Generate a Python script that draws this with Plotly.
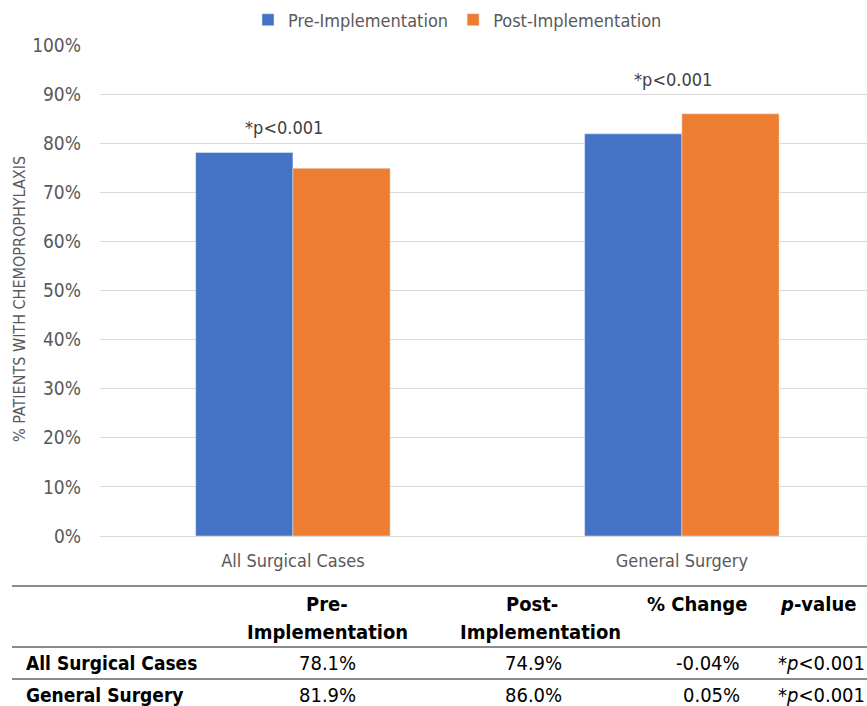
import plotly.graph_objects as go

# Chemoprophylaxis rates by cohort
categories = ["All Surgical Cases", "General Surgery"]
pre_values = [78.1, 81.9]     # % Pre-Implementation
post_values = [74.9, 86.0]    # % Post-Implementation
pct_change = ["-0.04%", "0.05%"]
p_labels = ["*p<0.001", "*p<0.001"]

W, H = 867, 706
M_L, M_R, M_T, M_B = 100, 0, 45, 170
PLOT_W = W - M_L - M_R
PLOT_H = H - M_T - M_B

FONT = "DejaVu Sans Condensed, sans-serif"
GREY = "#595959"
BLUE = "#4472C4"
ORANGE = "#ED7D31"


def px_x(x):
    return (x - M_L) / PLOT_W


def px_y(y):
    return (H - M_B - y) / PLOT_H


fig = go.Figure()
fig.add_trace(go.Bar(name="Pre-Implementation", x=categories,
                     y=[v / 100 for v in pre_values], marker_color=BLUE))
fig.add_trace(go.Bar(name="Post-Implementation", x=categories,
                     y=[v / 100 for v in post_values], marker_color=ORANGE))

annotations = []
# significance labels above each group
for i, lab in enumerate(p_labels):
    top = max(pre_values[i], post_values[i]) / 100
    annotations.append(dict(x=i, y=top + (0.05 if i == 0 else 0.07), xref="x", yref="y",
                            text=lab, showarrow=False, xshift=-9, xanchor="center",
                            font=dict(family=FONT, size=18, color="#404040")))

# y axis title
annotations.append(dict(x=px_x(19), y=px_y(299), xref="paper", yref="paper",
                        text="% PATIENTS WITH CHEMOPROPHYLAXIS", textangle=-90,
                        xanchor="center", yanchor="middle",
                        showarrow=False, font=dict(family=FONT, size=16, color=GREY)))

# summary table under the chart
TF = dict(family=FONT, size=20, color="black")


def cell(text, x, y, anchor="center", bold=False, size=20):
    t = f"<b>{text}</b>" if bold else text
    annotations.append(dict(x=px_x(x), y=px_y(y), xref="paper", yref="paper",
                            text=t, showarrow=False, xanchor=anchor, yanchor="middle",
                            font=dict(TF, size=size)))


cell("Pre-", 327, 604, bold=True)
cell("Implementation", 327, 632, bold=True)
cell("Post-", 532, 604, bold=True)
cell("Implementation", 540, 632, bold=True)
cell("% Change", 697, 604, bold=True)
cell("<i>p</i>-value", 818, 604, bold=True)

row_y = [663, 695]
for i, name in enumerate(categories):
    y = row_y[i]
    cell(name, 24, y, anchor="left", bold=True, size=19)
    cell(f"{pre_values[i]:.1f}%", 327, y)
    cell(f"{post_values[i]:.1f}%", 533, y)
    cell(pct_change[i], 742, y, anchor="right")
    cell(p_labels[i].replace("p", "<i>p</i>"), 776, y, anchor="left")

shapes = []
for ly in (586, 647, 679):
    shapes.append(dict(type="line", xref="paper", yref="paper",
                       x0=px_x(12), x1=1.0, y0=px_y(ly), y1=px_y(ly),
                       line=dict(color="#8c8c8c", width=2)))

fig.update_layout(
    width=W, height=H,
    margin=dict(l=M_L, r=M_R, t=M_T, b=M_B),
    paper_bgcolor="white", plot_bgcolor="white",
    barmode="group", bargap=0.5, bargroupgap=0,
    font=dict(family=FONT, size=18, color=GREY),
    legend=dict(orientation="h", x=px_x(248), y=px_y(20), xanchor="left", yanchor="middle",
                font=dict(family=FONT, size=18, color=GREY), itemwidth=30,
                traceorder="normal"),
    annotations=annotations,
    shapes=shapes,
)
fig.update_xaxes(range=[-0.496, 1.476], showgrid=False, showline=False, ticks="",
                 tickfont=dict(family=FONT, size=18, color=GREY), ticklabelstandoff=12)
fig.update_yaxes(range=[0, 1], dtick=0.1, tickformat=".0%", showgrid=True,
                 gridcolor="#d9d9d9", gridwidth=1, zeroline=True, zerolinecolor="#d9d9d9",
                 zerolinewidth=1, showline=False, ticks="",
                 tickfont=dict(family=FONT, size=19, color=GREY), ticklabelstandoff=18)

fig.write_html("out.html")
